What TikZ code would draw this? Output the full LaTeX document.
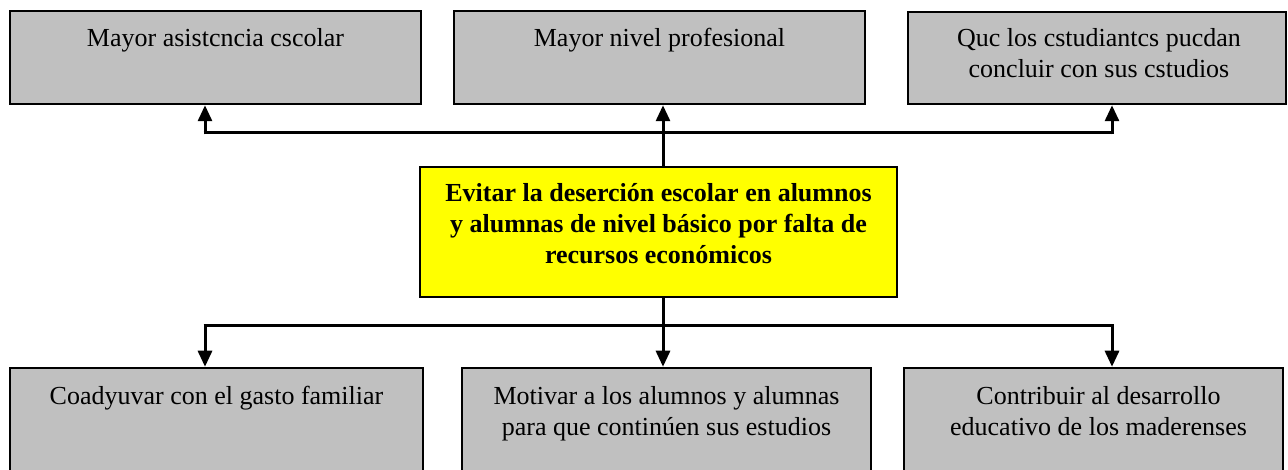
\documentclass[tikz,border=0pt]{standalone}
\usepackage{fontspec}
\setmainfont{Liberation Serif}
\usetikzlibrary{arrows.meta,calc}
\definecolor{boxgray}{HTML}{C0C0C0}
\definecolor{boxyellow}{HTML}{FFFF00}
\begin{document}
\begin{tikzpicture}[x=1pt,y=-1pt,
  gbox/.style={draw=black,line width=2.5pt,fill=boxgray,inner sep=0pt},
  ybox/.style={draw=black,line width=2.5pt,fill=boxyellow,inner sep=0pt},
  txt/.style={anchor=base,align=center,inner sep=0pt,font=\fontsize{26}{31}\selectfont},
  btxt/.style={txt,font=\fontsize{26}{31}\selectfont\bfseries},
  conn/.style={line width=3pt},
  arr/.style={line width=3pt,-{Triangle[width=14pt,length=16pt]}}]
\useasboundingbox (0,0) rectangle (1288,470);
% top boxes
\node[gbox,minimum width=411pt,minimum height=93pt] (b1) at (215.5,57.5) {};
\node[gbox,minimum width=411pt,minimum height=93pt] (b2) at (659.5,57.5) {};
\node[gbox,minimum width=378pt,minimum height=92pt] (b3) at (1097,58) {};
% centre box
\node[ybox,minimum width=477pt,minimum height=130pt] (c) at (658.5,232) {};
% bottom boxes
\node[gbox,minimum width=413pt,minimum height=110pt] (b4) at (216.5,423) {};
\node[gbox,minimum width=409pt,minimum height=110pt] (b5) at (666.5,423) {};
\node[gbox,minimum width=379pt,minimum height=110pt] (b6) at (1093.5,423) {};
% texts (base anchor = baseline of last line)
\node[txt] (t1) at ($(b1.north)+(0,37)$) {Mayor asistcncia cscolar};
\node[txt] (t2) at ($(b2.north)+(0,37)$) {Mayor nivel profesional};
\node[txt] (t3) at ($(b3.north)+(2,67)$) {Quc los cstudiantcs pucdan\\concluir con sus cstudios};
\node[btxt] (tc) at ($(c.north)+(0,98)$) {Evitar la deserción escolar en alumnos\\y alumnas de nivel básico por falta de\\recursos económicos};
\node[txt] (t4) at ($(b4.north)+(0,38)$) {Coadyuvar con el gasto familiar};
\node[txt] (t5) at ($(b5.north)+(0,69)$) {Motivar a los alumnos y alumnas\\para que continúen sus estudios};
\node[txt] (t6) at ($(b6.north)+(5,69)$) {Contribuir al desarrollo\\educativo de los maderenses};
% junction points
\coordinate (jl) at (205,133);
\coordinate (jt) at (663,133);
\coordinate (jr) at (1112,133);
\coordinate (kl) at (205,326);
\coordinate (kb) at (663,326);
\coordinate (kr) at (1112,326);
% top connectors
\draw[arr] (c.north -| jt) -- (jt |- b2.south);
\draw[conn] ($(jl)+(-1.5,0)$) -- ($(jr)+(1.5,0)$);
\draw[arr] ($(jl)+(0,1.5)$) -- (jl |- b1.south);
\draw[arr] ($(jr)+(0,1.5)$) -- (jr |- b3.south);
% bottom connectors
\draw[conn] (c.south -| kb) -- (kb);
\draw[conn] ($(kl)+(-1.5,0)$) -- ($(kr)+(1.5,0)$);
\draw[arr] ($(kl)+(0,-1.5)$) -- (kl |- b4.north);
\draw[arr] (kb) -- (kb |- b5.north);
\draw[arr] ($(kr)+(0,-1.5)$) -- (kr |- b6.north);
\end{tikzpicture}
\end{document}
